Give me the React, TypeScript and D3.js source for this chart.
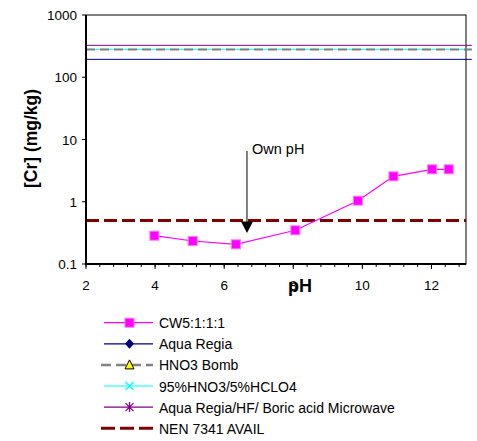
import React from "react";
import * as d3 from "d3";

const cw5Ph = [3.98, 5.09, 6.34, 8.06, 9.87, 10.9, 12.02, 12.5];
const cw5Cr = [0.285, 0.234, 0.207, 0.348, 1.04, 2.56, 3.32, 3.32];
const refPh = [2, 13.17];
const aquaRegia = [194, 194];
const hno3Bomb = [279, 279];
const hno3Hclo4 = [281, 281];
const aquaRegiaHF = [326, 326];
const nenPh = [2, 13];
const nen7341 = [0.5, 0.5];
const ownPh = 6.66;
const xTicks = [2, 4, 6, 8, 10, 12];
const yTicks = [0.1, 1, 10, 100, 1000];
const yTickLabels = ["0.1", "1", "10", "100", "1000"];
const legendLabels = [
  "CW5:1:1:1",
  "Aqua Regia",
  "HNO3 Bomb",
  "95%HNO3/5%HCLO4",
  "Aqua Regia/HF/ Boric acid Microwave",
  "NEN 7341 AVAIL",
];

const FONT = "Arial, 'Liberation Sans', sans-serif";

export default function App() {
  const left = 86, right = 466, top = 15, bottom = 264;
  const x = d3.scaleLinear().domain([2, 13]).range([left, right]);
  const y = d3.scaleLog().domain([0.1, 1000]).range([bottom, top]);
  const line = d3
    .line<[number, number]>()
    .x((d) => x(d[0]))
    .y((d) => y(d[1]));
  const pairs = (xs: number[], ys: number[]) =>
    xs.map((v, i) => [v, ys[i]] as [number, number]);

  const minorTicks = d3.range(2, 13.001, 0.4);

  const legY0 = 322.7;
  const legStep = 21.1;
  const lx0 = 104, lx1 = 153, lmx = 129.5, ltx = 159;

  const square = (cx: number, cy: number, s: number, key?: any) => (
    <rect key={key} x={cx - s / 2} y={cy - s / 2} width={s} height={s} fill="#FF00FF" stroke="#FF77FF" strokeWidth={1} />
  );

  return (
    <svg width={477} height={441} style={{ position: "absolute", left: 0, top: 0, background: "#fff" }} fontFamily={FONT}>
      <rect x={0} y={0} width={477} height={441} fill="#fff" />
      {/* frame */}
      <rect x={left} y={top} width={right - left} height={bottom - top} fill="none" stroke="#000" strokeWidth={1} />
      {/* reference lines */}
      <path d={line(pairs(refPh, aquaRegiaHF)) || ""} stroke="#800080" strokeWidth={1} fill="none" />
      <path d={line(pairs(refPh, hno3Hclo4)) || ""} stroke="#00FFFF" strokeWidth={1} fill="none" />
      <path d={line(pairs(refPh, hno3Bomb)) || ""} stroke="#808080" strokeWidth={2.2} strokeDasharray="9,5" fill="none" />
      <path d={line(pairs(refPh, aquaRegia)) || ""} stroke="#000080" strokeWidth={1} fill="none" />
      <path d={line(pairs(nenPh, nen7341)) || ""} stroke="#800000" strokeWidth={3} strokeDasharray="13,5" fill="none" />
      {/* CW5 series */}
      <path d={line(pairs(cw5Ph, cw5Cr)) || ""} stroke="#FF00FF" strokeWidth={1.2} fill="none" />
      {cw5Ph.map((p, i) => square(x(p), y(cw5Cr[i]), 9, i))}
      {/* axes */}
      <line x1={left} y1={top} x2={left} y2={bottom + 1} stroke="#000" strokeWidth={2} />
      <line x1={left - 1} y1={bottom} x2={right} y2={bottom} stroke="#000" strokeWidth={2} />
      {minorTicks.map((t, i) => (
        <line key={"m" + i} x1={x(t)} x2={x(t)} y1={bottom} y2={bottom + 3} stroke="#000" strokeWidth={1} />
      ))}
      {xTicks.map((t) => (
        <g key={"x" + t}>
          <line x1={x(t)} x2={x(t)} y1={bottom} y2={bottom + 5} stroke="#000" strokeWidth={1} />
          <text x={x(t)} y={290} textAnchor="middle" fontSize={13.5} fill="#000">
            {t}
          </text>
        </g>
      ))}
      {yTicks.map((t, i) => (
        <g key={"y" + t}>
          <line x1={left - 4} x2={left} y1={y(t)} y2={y(t)} stroke="#000" strokeWidth={1} />
          <text x={77} y={y(t) + 5} textAnchor="end" fontSize={13.5} fill="#000">
            {yTickLabels[i]}
          </text>
        </g>
      ))}
      {/* axis titles */}
      <text x={300} y={291.5} textAnchor="middle" fontSize={18} fontWeight="bold" fill="#000">
        pH
      </text>
      <text
        transform={`translate(36.5,${(top + bottom) / 2 - 1}) rotate(-90)`}
        textAnchor="middle"
        fontSize={17.5}
        fontWeight="bold"
        fill="#000"
      >
        [Cr] (mg/kg)
      </text>
      {/* Own pH annotation */}
      <line x1={x(ownPh)} x2={x(ownPh)} y1={151} y2={223} stroke="#000" strokeWidth={1} />
      <path
        d={`M${x(ownPh) - 6},${221.5} L${x(ownPh) + 6},${221.5} L${x(ownPh)},${233} Z`}
        fill="#000"
      />
      <text x={x(ownPh) + 5} y={154} fontSize={14.5} fill="#000">
        Own pH
      </text>
      {/* legend */}
      {legendLabels.map((lab, i) => {
        const ly = legY0 + i * legStep;
        let lineEl: any = null;
        let marker: any = null;
        if (i === 0) {
          lineEl = <line x1={lx0} x2={lx1} y1={ly} y2={ly} stroke="#FF00FF" strokeWidth={1.2} />;
          marker = square(lmx, ly, 9);
        } else if (i === 1) {
          lineEl = <line x1={lx0} x2={lx1} y1={ly} y2={ly} stroke="#000080" strokeWidth={1.2} />;
          marker = <path d={`M${lmx},${ly - 5} L${lmx + 4.5},${ly} L${lmx},${ly + 5} L${lmx - 4.5},${ly} Z`} fill="#000080" />;
        } else if (i === 2) {
          lineEl = <line x1={lx0 - 3} x2={lx1} y1={ly} y2={ly} stroke="#808080" strokeWidth={2.5} strokeDasharray="10,5" />;
          marker = <path d={`M${lmx},${ly - 5} L${lmx + 4.5},${ly + 4} L${lmx - 4.5},${ly + 4} Z`} fill="#FFFF00" stroke="#000" strokeWidth={1} />;
        } else if (i === 3) {
          lineEl = <line x1={lx0} x2={lx1} y1={ly} y2={ly} stroke="#00FFFF" strokeWidth={1.2} />;
          marker = (
            <path d={`M${lmx - 4},${ly - 4} L${lmx + 4},${ly + 4} M${lmx + 4},${ly - 4} L${lmx - 4},${ly + 4}`} stroke="#00FFFF" strokeWidth={1.3} />
          );
        } else if (i === 4) {
          lineEl = <line x1={lx0} x2={lx1} y1={ly} y2={ly} stroke="#800080" strokeWidth={1.2} />;
          marker = (
            <path
              d={`M${lmx - 4},${ly - 4} L${lmx + 4},${ly + 4} M${lmx + 4},${ly - 4} L${lmx - 4},${ly + 4} M${lmx},${ly - 5} L${lmx},${ly + 5}`}
              stroke="#800080"
              strokeWidth={1.3}
            />
          );
        } else {
          lineEl = <line x1={lx0 - 3} x2={lx1} y1={ly} y2={ly} stroke="#800000" strokeWidth={3} strokeDasharray="14,5" />;
        }
        return (
          <g key={lab}>
            {lineEl}
            {marker}
            <text x={ltx} y={ly + 5.5} fontSize={14} fill="#000">
              {lab}
            </text>
          </g>
        );
      })}
    </svg>
  );
}
